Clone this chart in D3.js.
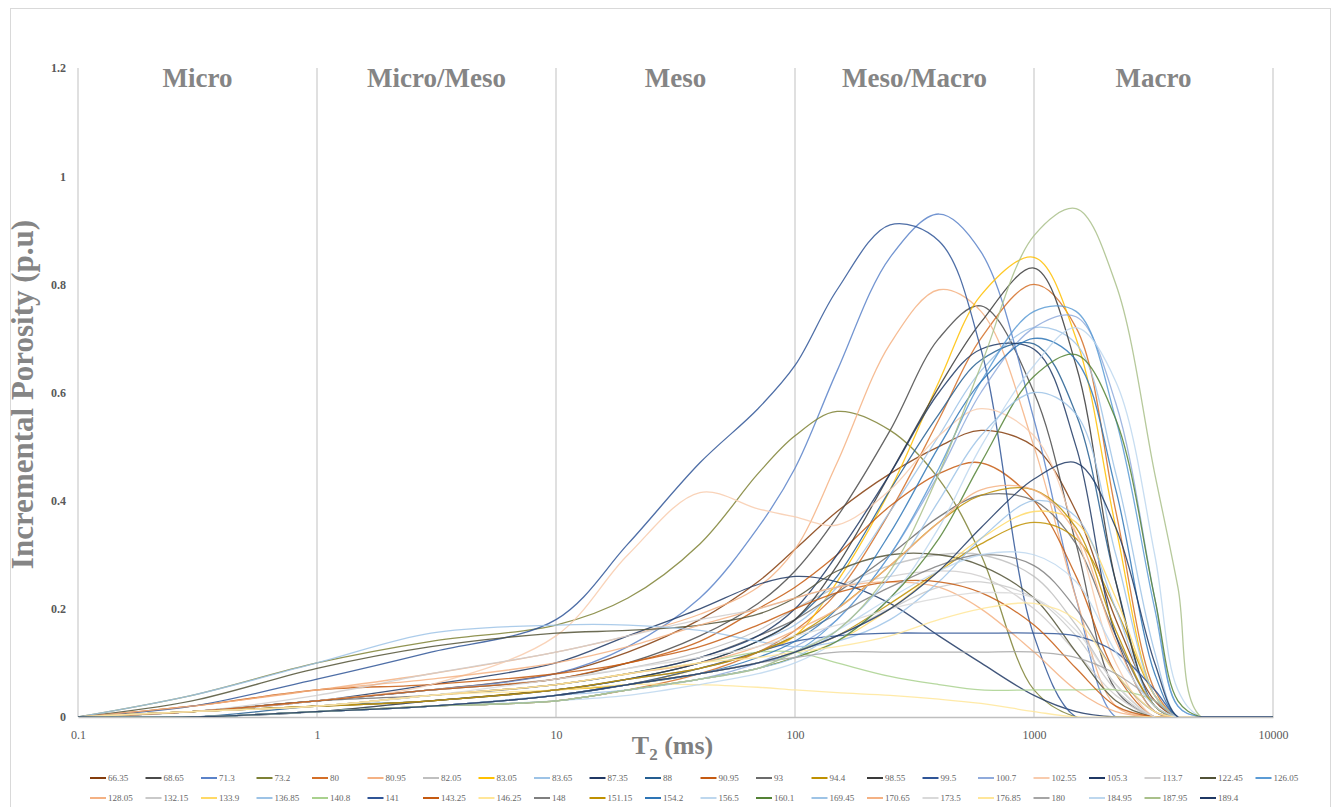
<!DOCTYPE html>
<html>
<head>
<meta charset="utf-8">
<script src="https://cdnjs.cloudflare.com/ajax/libs/d3/7.8.5/d3.min.js"></script>
<style>
  body { margin: 0; background: #ffffff; }
  svg { display: block; font-family: "Liberation Serif", "Times New Roman", serif; }
</style>
</head>
<body>
<div id="my_dataviz"></div>
<script>
// T2 grid (ms) shared by every sample
var t2 = [0.1, 0.3, 1, 3, 10, 20, 40, 70, 100, 150, 250, 400, 600, 1000, 1500, 2200, 3200, 4000, 5000, 10000];

// incremental porosity (p.u) of each sample on the grid above
var v66_35  = [0, 0.01, 0.03, 0.05, 0.08, 0.12, 0.18, 0.25, 0.31, 0.38, 0.45, 0.5, 0.53, 0.5, 0.38, 0.18, 0.03, 0, 0, 0];
var v68_65  = [0, 0.01, 0.03, 0.05, 0.07, 0.1, 0.15, 0.21, 0.27, 0.37, 0.53, 0.7, 0.76, 0.6, 0.32, 0.05, 0, 0, 0, 0];
var v71_3   = [0, 0.01, 0.03, 0.05, 0.08, 0.13, 0.22, 0.35, 0.46, 0.64, 0.85, 0.93, 0.86, 0.55, 0.22, 0, 0, 0, 0, 0];
var v73_2   = [0, 0.04, 0.1, 0.14, 0.17, 0.22, 0.32, 0.45, 0.52, 0.565, 0.53, 0.44, 0.3, 0.05, 0, 0, 0, 0, 0, 0];
var v80     = [0, 0, 0.01, 0.02, 0.03, 0.05, 0.08, 0.12, 0.16, 0.23, 0.38, 0.55, 0.7, 0.8, 0.72, 0.38, 0.05, 0, 0, 0];
var v80_95  = [0, 0.02, 0.05, 0.08, 0.12, 0.15, 0.19, 0.24, 0.31, 0.47, 0.69, 0.79, 0.75, 0.5, 0.22, 0.02, 0, 0, 0, 0];
var v82_05  = [0, 0.01, 0.03, 0.05, 0.07, 0.09, 0.12, 0.16, 0.2, 0.24, 0.28, 0.3, 0.3, 0.26, 0.17, 0.06, 0, 0, 0, 0];
var v83_05  = [0, 0.01, 0.02, 0.03, 0.05, 0.06, 0.09, 0.12, 0.15, 0.25, 0.42, 0.62, 0.78, 0.85, 0.7, 0.35, 0.04, 0, 0, 0];
var v83_65  = [0, 0, 0.01, 0.03, 0.05, 0.07, 0.1, 0.14, 0.17, 0.24, 0.38, 0.52, 0.64, 0.72, 0.69, 0.45, 0.12, 0, 0, 0];
var v87_35  = [0, 0.01, 0.03, 0.06, 0.1, 0.15, 0.2, 0.245, 0.26, 0.25, 0.21, 0.15, 0.1, 0.04, 0.01, 0, 0, 0, 0, 0];
var v88     = [0, 0, 0.02, 0.03, 0.05, 0.07, 0.1, 0.14, 0.18, 0.26, 0.42, 0.56, 0.66, 0.69, 0.56, 0.25, 0.02, 0, 0, 0];
var v90_95  = [0, 0.02, 0.05, 0.06, 0.08, 0.1, 0.14, 0.2, 0.24, 0.3, 0.39, 0.45, 0.47, 0.4, 0.26, 0.08, 0, 0, 0, 0];
var v93     = [0, 0.01, 0.03, 0.04, 0.06, 0.08, 0.11, 0.15, 0.18, 0.23, 0.3, 0.37, 0.41, 0.4, 0.32, 0.15, 0.02, 0, 0, 0];
var v94_4   = [0, 0.01, 0.02, 0.03, 0.05, 0.06, 0.08, 0.1, 0.12, 0.15, 0.21, 0.27, 0.32, 0.36, 0.33, 0.2, 0.04, 0, 0, 0];
var v98_55  = [0, 0, 0.01, 0.03, 0.05, 0.07, 0.1, 0.14, 0.18, 0.28, 0.45, 0.61, 0.73, 0.83, 0.65, 0.25, 0.02, 0, 0, 0];
var v99_5   = [0, 0.02, 0.07, 0.12, 0.18, 0.32, 0.47, 0.57, 0.65, 0.79, 0.91, 0.88, 0.68, 0.15, 0, 0, 0, 0, 0, 0];
var v100_7  = [0, 0, 0.01, 0.02, 0.03, 0.05, 0.07, 0.1, 0.13, 0.18, 0.3, 0.45, 0.6, 0.72, 0.74, 0.58, 0.22, 0.02, 0, 0];
var v102_55 = [0, 0.01, 0.03, 0.06, 0.15, 0.3, 0.415, 0.385, 0.37, 0.355, 0.42, 0.52, 0.57, 0.52, 0.34, 0.1, 0, 0, 0, 0];
var v105_3  = [0, 0.01, 0.02, 0.04, 0.06, 0.08, 0.11, 0.15, 0.2, 0.3, 0.45, 0.6, 0.68, 0.68, 0.5, 0.15, 0.01, 0, 0, 0];
var v113_7  = [0, 0.01, 0.04, 0.08, 0.12, 0.15, 0.18, 0.2, 0.22, 0.24, 0.26, 0.27, 0.26, 0.2, 0.12, 0.04, 0, 0, 0, 0];
var v122_45 = [0, 0.03, 0.09, 0.13, 0.155, 0.16, 0.17, 0.19, 0.22, 0.27, 0.3, 0.3, 0.28, 0.22, 0.12, 0.03, 0, 0, 0, 0];
var v126_05 = [0, 0, 0.01, 0.02, 0.04, 0.06, 0.08, 0.1, 0.12, 0.18, 0.3, 0.46, 0.62, 0.75, 0.75, 0.55, 0.2, 0.02, 0, 0];
var v128_05 = [0, 0.02, 0.05, 0.07, 0.1, 0.13, 0.17, 0.2, 0.22, 0.24, 0.25, 0.24, 0.2, 0.12, 0.05, 0.01, 0, 0, 0, 0];
var v132_15 = [0, 0, 0.01, 0.02, 0.04, 0.06, 0.08, 0.1, 0.12, 0.15, 0.2, 0.24, 0.25, 0.22, 0.15, 0.05, 0, 0, 0, 0];
var v133_9  = [0, 0, 0.01, 0.02, 0.03, 0.05, 0.07, 0.09, 0.11, 0.14, 0.2, 0.27, 0.33, 0.38, 0.36, 0.22, 0.04, 0, 0, 0];
var v136_85 = [0, 0.04, 0.1, 0.155, 0.17, 0.17, 0.16, 0.14, 0.13, 0.14, 0.18, 0.25, 0.33, 0.4, 0.37, 0.2, 0.02, 0, 0, 0];
var v140_8  = [0, 0.01, 0.02, 0.04, 0.06, 0.08, 0.1, 0.12, 0.12, 0.1, 0.075, 0.06, 0.05, 0.05, 0.05, 0.05, 0.03, 0, 0, 0];
var v141    = [0, 0, 0.01, 0.02, 0.04, 0.06, 0.09, 0.12, 0.14, 0.15, 0.155, 0.155, 0.155, 0.155, 0.15, 0.12, 0.05, 0, 0, 0];
var v143_25 = [0, 0.01, 0.03, 0.05, 0.07, 0.1, 0.13, 0.17, 0.2, 0.23, 0.25, 0.25, 0.23, 0.17, 0.09, 0.02, 0, 0, 0, 0];
var v146_25 = [0, 0.01, 0.02, 0.04, 0.05, 0.06, 0.06, 0.055, 0.05, 0.045, 0.04, 0.033, 0.025, 0.01, 0, 0, 0, 0, 0, 0];
var v148    = [0, 0.01, 0.02, 0.03, 0.05, 0.07, 0.09, 0.12, 0.15, 0.19, 0.24, 0.28, 0.3, 0.28, 0.2, 0.08, 0.01, 0, 0, 0];
var v151_15 = [0, 0.01, 0.02, 0.03, 0.05, 0.07, 0.09, 0.12, 0.15, 0.2, 0.28, 0.36, 0.41, 0.42, 0.35, 0.16, 0.02, 0, 0, 0];
var v154_2  = [0, 0, 0.01, 0.02, 0.04, 0.06, 0.08, 0.11, 0.14, 0.2, 0.34, 0.5, 0.62, 0.7, 0.66, 0.42, 0.08, 0, 0, 0];
var v156_5  = [0, 0, 0.01, 0.02, 0.03, 0.04, 0.06, 0.08, 0.1, 0.14, 0.22, 0.35, 0.5, 0.65, 0.72, 0.62, 0.3, 0.05, 0, 0];
var v160_1  = [0, 0, 0.01, 0.02, 0.03, 0.05, 0.07, 0.09, 0.11, 0.14, 0.22, 0.33, 0.47, 0.63, 0.67, 0.55, 0.22, 0.03, 0, 0];
var v169_45 = [0, 0, 0.01, 0.02, 0.04, 0.05, 0.07, 0.09, 0.11, 0.16, 0.26, 0.4, 0.52, 0.6, 0.56, 0.3, 0.04, 0, 0, 0];
var v170_65 = [0, 0.01, 0.02, 0.04, 0.06, 0.08, 0.1, 0.13, 0.16, 0.2, 0.28, 0.36, 0.42, 0.42, 0.34, 0.14, 0.01, 0, 0, 0];
var v173_5  = [0, 0.01, 0.02, 0.04, 0.07, 0.09, 0.11, 0.13, 0.15, 0.17, 0.2, 0.22, 0.23, 0.22, 0.16, 0.06, 0, 0, 0, 0];
var v176_85 = [0, 0.01, 0.02, 0.04, 0.06, 0.08, 0.1, 0.11, 0.12, 0.13, 0.15, 0.18, 0.2, 0.21, 0.18, 0.08, 0.01, 0, 0, 0];
var v180    = [0, 0, 0.01, 0.02, 0.04, 0.06, 0.08, 0.1, 0.11, 0.12, 0.12, 0.12, 0.12, 0.12, 0.11, 0.08, 0.03, 0, 0, 0];
var v184_95 = [0, 0, 0.01, 0.02, 0.03, 0.05, 0.07, 0.09, 0.12, 0.16, 0.22, 0.27, 0.3, 0.3, 0.25, 0.12, 0.02, 0, 0, 0];
var v187_95 = [0, 0, 0.01, 0.02, 0.03, 0.05, 0.07, 0.09, 0.12, 0.16, 0.27, 0.45, 0.65, 0.89, 0.94, 0.8, 0.45, 0.24, 0, 0];
var v189_4  = [0, 0, 0.01, 0.02, 0.04, 0.06, 0.08, 0.1, 0.12, 0.15, 0.2, 0.27, 0.35, 0.44, 0.47, 0.35, 0.1, 0, 0, 0];

var sampleNames = ["66.35", "68.65", "71.3", "73.2", "80", "80.95", "82.05", "83.05", "83.65", "87.35", "88",
  "90.95", "93", "94.4", "98.55", "99.5", "100.7", "102.55", "105.3", "113.7", "122.45", "126.05",
  "128.05", "132.15", "133.9", "136.85", "140.8", "141", "143.25", "146.25", "148", "151.15", "154.2",
  "156.5", "160.1", "169.45", "170.65", "173.5", "176.85", "180", "184.95", "187.95", "189.4"];

var sampleValues = [v66_35, v68_65, v71_3, v73_2, v80, v80_95, v82_05, v83_05, v83_65, v87_35, v88,
  v90_95, v93, v94_4, v98_55, v99_5, v100_7, v102_55, v105_3, v113_7, v122_45, v126_05,
  v128_05, v132_15, v133_9, v136_85, v140_8, v141, v143_25, v146_25, v148, v151_15, v154_2,
  v156_5, v160_1, v169_45, v170_65, v173_5, v176_85, v180, v184_95, v187_95, v189_4];

var sampleColors = ["#843C0C", "#4a4a4a", "#5B82C9", "#7E8134", "#D46F27", "#F4B183", "#BFBFBF", "#FFC000", "#9DC3E6", "#203864", "#255E91",
  "#C55A11", "#6b6b6b", "#BF9000", "#3A3A3A", "#2F5597", "#8FAADC", "#F8CBAD", "#1F3864", "#D0CECE", "#525236", "#5B9BD5",
  "#F4B183", "#C9C9C9", "#FFD966", "#9DC3E6", "#A9D18E", "#2F5597", "#C55A11", "#FFE699", "#7F7F7F", "#BF9000", "#2E75B6",
  "#BDD7EE", "#548235", "#9DC3E6", "#F4B183", "#D9D9D9", "#FFE699", "#A5A5A5", "#BDD7EE", "#A9C08A", "#1F3864"];

var xTicks = [0.1, 1, 10, 100, 1000, 10000];
var yTicks = [0, 0.2, 0.4, 0.6, 0.8, 1, 1.2];
var regionNames = ["Micro", "Micro/Meso", "Meso", "Meso/Macro", "Macro"];

// set the dimensions and margins of the graph
var totalWidth = 1338,
    totalHeight = 807;
var margin = {top: 68, right: 65, bottom: 90, left: 78},
    width = totalWidth - margin.left - margin.right,
    height = totalHeight - margin.top - margin.bottom;

var root = d3.select("#my_dataviz")
  .append("svg")
    .attr("width", totalWidth)
    .attr("height", totalHeight);

// chart border
root.append("rect")
    .attr("x", 10.5)
    .attr("y", 8.5)
    .attr("width", 1320)
    .attr("height", 820)
    .attr("fill", "none")
    .attr("stroke", "#d9d9d9")
    .attr("stroke-width", 1);

var svg = root.append("g")
    .attr("transform", "translate(" + margin.left + "," + margin.top + ")");

var x = d3.scaleLog()
  .domain([0.1, 10000])
  .range([0, width]);

var y = d3.scaleLinear()
  .domain([0, 1.2])
  .range([height, 0]);

// vertical grid lines, one per decade
svg.selectAll(".vgrid")
  .data(xTicks)
  .enter()
  .append("line")
    .attr("class", "vgrid")
    .attr("x1", function(d) { return x(d); })
    .attr("x2", function(d) { return x(d); })
    .attr("y1", y(1.2))
    .attr("y2", y(0))
    .attr("stroke", "#d0d0d0")
    .attr("stroke-width", 1.3);

// x axis
var xAxis = svg.append("g")
    .attr("transform", "translate(0," + height + ")")
    .call(d3.axisBottom(x).tickValues(xTicks).tickFormat(function(d) { return String(d); }).tickSize(0).tickPadding(13));
xAxis.select(".domain").attr("stroke", "#bfbfbf").attr("stroke-width", 1.3);
xAxis.selectAll("text")
    .attr("font-family", "Liberation Serif, serif")
    .attr("font-size", 12)
    .attr("fill", "#595959");

// y axis
var yAxis = svg.append("g")
    .call(d3.axisLeft(y).tickValues(yTicks).tickFormat(function(d) { return String(d); }).tickSize(0).tickPadding(12));
yAxis.select(".domain").remove();
yAxis.selectAll("text")
    .attr("font-family", "Liberation Serif, serif")
    .attr("font-size", 12)
    .attr("font-weight", "bold")
    .attr("fill", "#595959");

// pore size region labels, centred in each decade
svg.selectAll(".region")
  .data(regionNames)
  .enter()
  .append("text")
    .attr("class", "region")
    .attr("x", function(d, i) { return x(Math.sqrt(xTicks[i] * xTicks[i + 1])); })
    .attr("y", 19)
    .attr("text-anchor", "middle")
    .attr("font-size", 27)
    .attr("font-weight", "bold")
    .attr("fill", "#858585")
    .text(function(d) { return d; });

// clip so smoothed lines stay above the baseline
svg.append("clipPath")
    .attr("id", "plotClip")
  .append("rect")
    .attr("x", 0)
    .attr("y", -10)
    .attr("width", width)
    .attr("height", height + 10);

var line = d3.line()
  .x(function(d) { return x(d[0]); })
  .y(function(d) { return y(d[1]); })
  .curve(d3.curveCatmullRom.alpha(0.5));

svg.append("g")
    .attr("clip-path", "url(#plotClip)")
  .selectAll("path")
  .data(sampleValues)
  .enter()
  .append("path")
    .attr("fill", "none")
    .attr("stroke", function(d, i) { return sampleColors[i]; })
    .attr("stroke-width", 1.3)
    .attr("stroke-opacity", 0.85)
    .attr("d", function(vals) { return line(vals.map(function(v, j) { return [t2[j], v]; })); });

// axis titles
root.append("text")
    .attr("transform", "translate(33," + (margin.top + height / 2 + 2) + ") rotate(-90)")
    .attr("text-anchor", "middle")
    .attr("font-size", 31)
    .attr("font-weight", "bold")
    .attr("fill", "#858585")
    .text("Incremental Porosity (p.u)");

var xTitle = root.append("text")
    .attr("x", margin.left + width / 2 - 3)
    .attr("y", 754)
    .attr("text-anchor", "middle")
    .attr("font-size", 26)
    .attr("font-weight", "bold")
    .attr("fill", "#7f7f7f");
xTitle.append("tspan").text("T");
xTitle.append("tspan").attr("font-size", 17).attr("dy", 6).text("2");
xTitle.append("tspan").attr("dy", -6).text(" (ms)");

// legend, two rows
var perRow = 22,
    colWidth = 55.5;
var legend = root.selectAll(".legendItem")
  .data(sampleNames)
  .enter()
  .append("g")
    .attr("class", "legendItem")
    .attr("transform", function(d, i) {
      var col = i % perRow, row = Math.floor(i / perRow);
      return "translate(" + (90 + col * colWidth) + "," + (778 + row * 20) + ")";
    });

legend.append("line")
    .attr("x1", 0)
    .attr("x2", 16)
    .attr("stroke", function(d, i) { return sampleColors[i]; })
    .attr("stroke-width", 2);

legend.append("text")
    .attr("x", 18)
    .attr("dy", "0.35em")
    .attr("font-size", 9)
    .attr("fill", "#666666")
    .text(function(d) { return d; });
</script>
</body>
</html>
